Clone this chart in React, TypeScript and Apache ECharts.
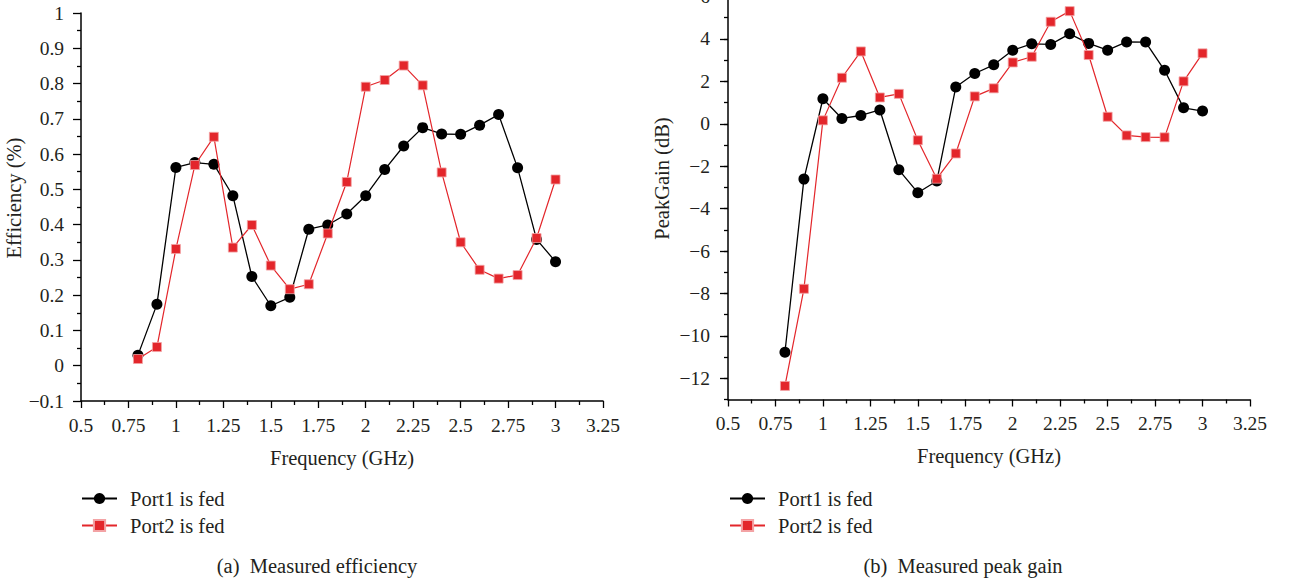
import React, { useEffect, useRef } from "react";
import * as echarts from "echarts";

const freq = [0.8, 0.9, 1.0, 1.1, 1.2, 1.3, 1.4, 1.5, 1.6, 1.7, 1.8, 1.9, 2.0, 2.1, 2.2, 2.3, 2.4, 2.5, 2.6, 2.7, 2.8, 2.9, 3.0];

const effPort1 = [0.030, 0.174, 0.562, 0.576, 0.571, 0.482, 0.253, 0.170, 0.194, 0.387, 0.399, 0.430, 0.482, 0.556, 0.623, 0.675, 0.657, 0.656, 0.682, 0.712, 0.561, 0.358, 0.295];
const effPort2 = [0.019, 0.053, 0.331, 0.569, 0.649, 0.335, 0.399, 0.284, 0.217, 0.231, 0.375, 0.521, 0.791, 0.810, 0.851, 0.795, 0.548, 0.350, 0.272, 0.247, 0.257, 0.362, 0.528];

const gainPort1 = [-10.77, -2.61, 1.18, 0.25, 0.39, 0.65, -2.17, -3.25, -2.70, 1.73, 2.37, 2.78, 3.47, 3.77, 3.74, 4.24, 3.79, 3.47, 3.86, 3.85, 2.52, 0.75, 0.60];
const gainPort2 = [-12.36, -7.78, 0.16, 2.17, 3.41, 1.24, 1.41, -0.78, -2.59, -1.40, 1.29, 1.67, 2.89, 3.16, 4.81, 5.31, 3.24, 0.33, -0.55, -0.63, -0.64, 2.00, 3.32];

const gainMajorTicks = [-12, -10, -8, -6, -4, -2, 0, 2, 4, 6];
const seriesNames = ["Port1 is fed", "Port2 is fed"];
const captions = ["(a)  Measured efficiency", "(b)  Measured peak gain"];

const FONT = "'Liberation Serif', 'DejaVu Serif', serif";
const TXT = "#231f20";
const RED = "#e3262b";
const BLK = "#000000";
const TICK_FS = 19.5;
const WORD_FS = 20.5;

const minus = (s: string) => s.replace("-", "\u2212");

function xAxisCfg(gridIndex: number) {
  return {
    type: "value",
    gridIndex,
    min: 0.5,
    max: 3.25,
    interval: 0.25,
    name: "Frequency (GHz)",
    nameLocation: "middle",
    nameGap: 46,
    nameTextStyle: { fontFamily: FONT, fontSize: WORD_FS, color: TXT },
    axisLine: { show: true, onZero: false, lineStyle: { color: BLK, width: 1.5 } },
    axisTick: { show: true, inside: false, length: 7, lineStyle: { color: BLK, width: 1.3 } },
    minorTick: { show: true, splitNumber: 2, length: 4, lineStyle: { color: BLK, width: 1.3 } },
    splitLine: { show: false },
    minorSplitLine: { show: false },
    axisLabel: {
      margin: 14,
      fontFamily: FONT,
      fontSize: TICK_FS,
      color: TXT,
      formatter: (v: number) => String(Math.round(v * 100) / 100),
    },
  };
}

function lineSeries(name: string, data: number[], gi: number, yi: number, isRed: boolean) {
  return {
    type: "line",
    name,
    xAxisIndex: gi,
    yAxisIndex: yi,
    data: freq.map((f, i) => [f, data[i]]),
    symbol: isRed ? "rect" : "circle",
    symbolSize: isRed ? 9 : 11,
    lineStyle: { color: isRed ? RED : BLK, width: isRed ? 1.2 : 1.3 },
    itemStyle: isRed
      ? { color: RED, borderColor: "#f3a3a5", borderWidth: 0.8 }
      : { color: BLK },
    z: isRed ? 3 : 2,
  };
}

function legendCfg(left: number) {
  return {
    show: true,
    orient: "vertical",
    left,
    top: 488,
    padding: 0,
    itemWidth: 35,
    itemHeight: 14,
    itemGap: 6,
    data: seriesNames,
    selectedMode: false,
    textStyle: { fontFamily: FONT, fontSize: WORD_FS, color: TXT, lineHeight: 20, padding: [0, 0, 0, 8] },
  };
}

export default function App() {
  const ref = useRef<HTMLDivElement>(null);
  useEffect(() => {
    if (!ref.current) return;
    const chart = echarts.init(ref.current, null, { renderer: "svg" });
    const option: any = {
      animation: false,
      backgroundColor: "#ffffff",
      grid: [
        { left: 81, top: 13, width: 522, height: 388, containLabel: false, outerBoundsMode: "none" },
        { left: 728, bottom: 184.5, width: 522, height: 403, containLabel: false, outerBoundsMode: "none" },
      ],
      xAxis: [xAxisCfg(0), xAxisCfg(1)],
      yAxis: [
        {
          type: "value",
          gridIndex: 0,
          min: -0.1,
          max: 1,
          interval: 0.1,
          name: "Efficiency (%)",
          nameLocation: "middle",
          nameGap: 54,
          nameTextStyle: { fontFamily: FONT, fontSize: WORD_FS, color: TXT, padding: [0, 0, 0, 18] },
          axisLine: { show: true, onZero: false, lineStyle: { color: BLK, width: 1.5 } },
          axisTick: { show: true, length: 8, lineStyle: { color: BLK, width: 1.3 } },
          minorTick: { show: true, splitNumber: 2, length: 4, lineStyle: { color: BLK, width: 1.3 } },
          splitLine: { show: false },
          axisLabel: {
            margin: 17,
            fontFamily: FONT,
            fontSize: TICK_FS,
            color: TXT,
            formatter: (v: number) => minus(String(Math.round(v * 10) / 10)),
          },
        },
        {
          type: "value",
          gridIndex: 1,
          min: -13,
          max: 6,
          name: "PeakGain (dB)",
          nameLocation: "middle",
          nameGap: 56,
          nameTextStyle: { fontFamily: FONT, fontSize: WORD_FS, color: TXT, padding: [0, 0, 0, 39] },
          axisLine: { show: true, onZero: false, lineStyle: { color: BLK, width: 1.5 } },
          axisTick: { show: true, length: 8, customValues: gainMajorTicks, lineStyle: { color: BLK, width: 1.3 } },
          splitLine: { show: false },
          axisLabel: {
            margin: 18,
            fontFamily: FONT,
            fontSize: TICK_FS,
            color: TXT,
            customValues: gainMajorTicks,
            formatter: (v: number) => minus(String(v)),
          },
        },
        {
          type: "value",
          gridIndex: 1,
          position: "left",
          min: -13,
          max: 6,
          interval: 1,
          axisLine: { show: false },
          axisTick: { show: true, length: 4, lineStyle: { color: BLK, width: 1.3 } },
          axisLabel: { show: false },
          splitLine: { show: false },
        },
      ],
      legend: [legendCfg(81), legendCfg(729)],
      graphic: [
        {
          type: "text",
          x: 317,
          y: 566,
          style: { text: captions[0], fontFamily: FONT, fontSize: WORD_FS, fill: TXT, align: "center", verticalAlign: "middle" },
        },
        {
          type: "text",
          x: 963,
          y: 566,
          style: { text: captions[1], fontFamily: FONT, fontSize: WORD_FS, fill: TXT, align: "center", verticalAlign: "middle" },
        },
      ],
      series: [
        lineSeries(seriesNames[0], effPort1, 0, 0, false),
        lineSeries(seriesNames[1], effPort2, 0, 0, true),
        lineSeries(seriesNames[0], gainPort1, 1, 1, false),
        lineSeries(seriesNames[1], gainPort2, 1, 1, true),
      ],
    };
    chart.setOption(option);
    return () => chart.dispose();
  }, []);
  return (
    <div
      ref={ref}
      style={{ position: "fixed", left: 0, top: 0, width: 1289, height: 584, background: "#fff" }}
    />
  );
}
